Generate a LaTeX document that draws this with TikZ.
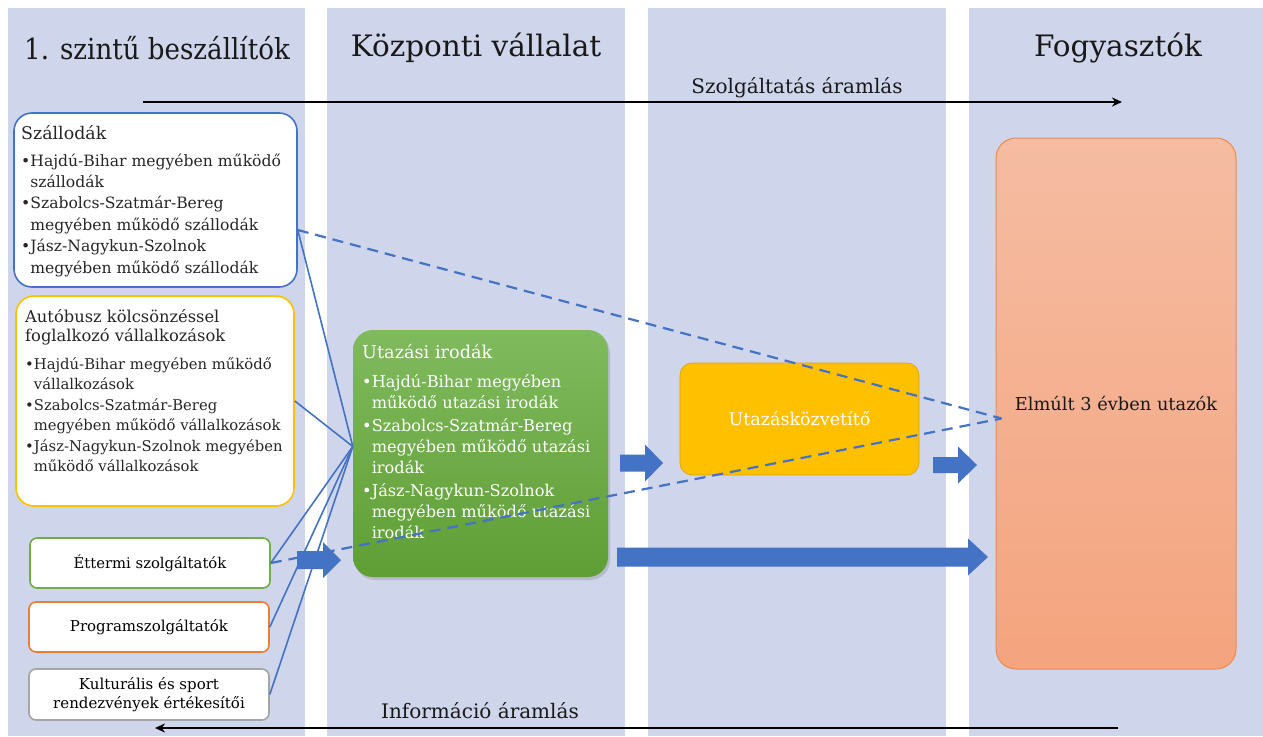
\documentclass[tikz,border=0pt]{standalone}
\usepackage{fontspec}
\setmainfont{DejaVu Serif}
\newfontfamily\condfont{DejaVu Serif Condensed}
\usetikzlibrary{calc,shadows,arrows.meta}
\definecolor{colbg}{HTML}{CFD5EA}
\definecolor{blueb}{HTML}{4472C4}
\definecolor{goldb}{HTML}{FFC000}
\definecolor{greenb}{HTML}{70AD47}
\definecolor{orangeb}{HTML}{ED7D31}
\definecolor{grayb}{HTML}{A5A5A5}
\definecolor{gtop}{HTML}{80BA5E}
\definecolor{gbot}{HTML}{5F9E35}
\definecolor{otop}{HTML}{F5BCA2}
\definecolor{obot}{HTML}{F4A47E}
\definecolor{oborder}{HTML}{F0894E}
\newcommand{\bl}{\textbullet}
\newcommand{\ph}{\phantom{\textbullet}}
\newcommand{\barrow}[6]{\fill[blueb] (#1,#4-#5) -- (#2,#4-#5) -- (#2,#4-#6) -- (#3,#4) -- (#2,#4+#6) -- (#2,#4+#5) -- (#1,#4+#5) -- cycle;}
\tikzset{
  col/.style={fill=colbg, draw=none},
  box/.style={rectangle, rounded corners=18, fill=white, line width=1.6pt},
  sbox/.style={rectangle, rounded corners=7, fill=white, line width=1.6pt},
  txt/.style={inner sep=0pt, text=black!85},
  head/.style={font=\fontsize{29.5}{32}\selectfont, text=black!90},
  flow/.style={font=\fontsize{20}{22}\selectfont, text=black!90},
  conn/.style={draw=blueb, line width=1.6pt},
  dconn/.style={draw=blueb, line width=2.2pt, dash pattern=on 11pt off 7pt},
  bigarrow/.style={line width=2.8pt, -{Stealth[length=10pt,width=9pt]}}
}
\begin{document}
\begin{tikzpicture}[x=1pt,y=-1pt]
\useasboundingbox (0,0) rectangle (1263,736);
\fill[white] (0,0) rectangle (1263,736);
% columns
\fill[col] (8,8) rectangle (305,736);
\fill[col] (327,8) rectangle (625,736);
\fill[col] (648,8) rectangle (946,736);
\fill[col] (969,8) rectangle (1263,736);
% headers
\node[head, font=\condfont\fontsize{29}{32}\selectfont] (h1) at (157,48) {1. szintű beszállítók};
\node[head] (h2) at (476,48) {Központi vállalat};
\node[head] (h4) at (1118,48) {Fogyasztók};
% flows
\coordinate (sf0) at (143,102);
\coordinate (sf1) at (1122,102);
\draw[bigarrow] (sf0) -- (sf1);
\node[flow] (sfl) at (797,88) {Szolgáltatás áramlás};
\coordinate (if0) at (1118,728);
\coordinate (if1) at (155,728);
\draw[bigarrow] (if0) -- (if1);
\node[flow] (ifl) at (480,711) {Információ áramlás};
% supplier boxes
\node[box, draw=blueb, minimum width=283, minimum height=174] (szall) at (155.5,200) {};
\node[txt, anchor=north west] (szallt) at (21,124) {\fontsize{15.6}{21.4}\selectfont
\begin{tabular}{@{}l@{}}
{\fontsize{17.4}{21}\selectfont Szállodák}\\[5.5pt]
\bl Hajdú-Bihar megyében működő\\ \ph szállodák\\
\bl Szabolcs-Szatmár-Bereg\\ \ph megyében működő szállodák\\
\bl Jász-Nagykun-Szolnok\\ \ph megyében működő szállodák
\end{tabular}};
\node[box, draw=goldb, minimum width=278, minimum height=210] (busz) at (155,401) {};
\node[txt, anchor=north west] (buszt) at (25,308) {\fontsize{14.8}{19.8}\selectfont
\begin{tabular}{@{}l@{}}
{\fontsize{16.3}{20}\selectfont Autóbusz kölcsönzéssel}\\
{\fontsize{16.3}{20}\selectfont foglalkozó vállalkozások}\\[8pt]
\bl Hajdú-Bihar megyében működő\\ \ph vállalkozások\\[1.5pt]
\bl Szabolcs-Szatmár-Bereg\\ \ph megyében működő vállalkozások\\[1.5pt]
\bl Jász-Nagykun-Szolnok megyében\\ \ph működő vállalkozások
\end{tabular}};
\node[sbox, draw=greenb, minimum width=240, minimum height=50, font=\fontsize{14.8}{18}\selectfont] (ett) at (150,563) {Éttermi szolgáltatók};
\node[sbox, draw=orangeb, minimum width=240, minimum height=50, font=\fontsize{15}{18}\selectfont] (prog) at (149,627) {Programszolgáltatók};
\node[sbox, draw=grayb, minimum width=240, minimum height=51, align=center, font=\fontsize{15}{18.5}\selectfont] (kult) at (149,694.5) {Kulturális és sport\\ rendezvények értékesítői};
% central
\node[rectangle, rounded corners=20, top color=gtop, bottom color=gbot, draw=none, minimum width=255, minimum height=247, drop shadow={opacity=0.3, shadow xshift=2pt, shadow yshift=-3pt}] (utaz) at (480.5,453.5) {};
\node[txt, anchor=north west, text=white] (utazt) at (362,343.5) {\fontsize{16.2}{21}\selectfont
\begin{tabular}{@{}l@{}}
{\fontsize{17.7}{21}\selectfont Utazási irodák}\\[8pt]
\bl Hajdú-Bihar megyében\\ \ph működő utazási irodák\\[2pt]
\bl Szabolcs-Szatmár-Bereg\\ \ph megyében működő utazási\\ \ph irodák\\[2pt]
\bl Jász-Nagykun-Szolnok\\ \ph megyében működő utazási\\ \ph irodák
\end{tabular}};
\node[rectangle, rounded corners=12, fill=goldb, draw=goldb!85!black, line width=0.6pt, minimum width=239, minimum height=112, text=white, font=\fontsize{17.5}{20}\selectfont] (kozv) at (799.5,419) {Utazásközvetítő};
\node[rectangle, rounded corners=20, top color=otop, bottom color=obot, draw=oborder, line width=1pt, minimum width=240, minimum height=531, font=\fontsize{17.8}{20}\selectfont, text=black!90] (elm) at (1116,403.5) {Elmúlt 3 évben utazók};
% connectors to travel agencies
\coordinate (conv) at ($(utaz.west)+(0,-7)$);
\coordinate (s1) at ($(szall.east)+(0,30)$);
\coordinate (target) at ($(elm.west)+(6,15)$);
\draw[conn] (s1) -- (conv);
\draw[conn] (busz.east) -- (conv);
\draw[conn] (ett.east) -- (conv);
\draw[conn] (prog.east) -- (conv);
\draw[conn] (kult.east) -- (conv);
% dashed
\draw[dconn] (s1) -- (target);
\draw[dconn] (ett.east) -- (target);
% block arrows
\barrow{297}{323}{341}{560}{9}{18}
\barrow{620}{645}{663}{463}{8.5}{18.5}
\barrow{933}{958}{977}{465}{8}{18.5}
\barrow{617}{968}{988}{557}{9.5}{18.5}
\end{tikzpicture}
\end{document}
